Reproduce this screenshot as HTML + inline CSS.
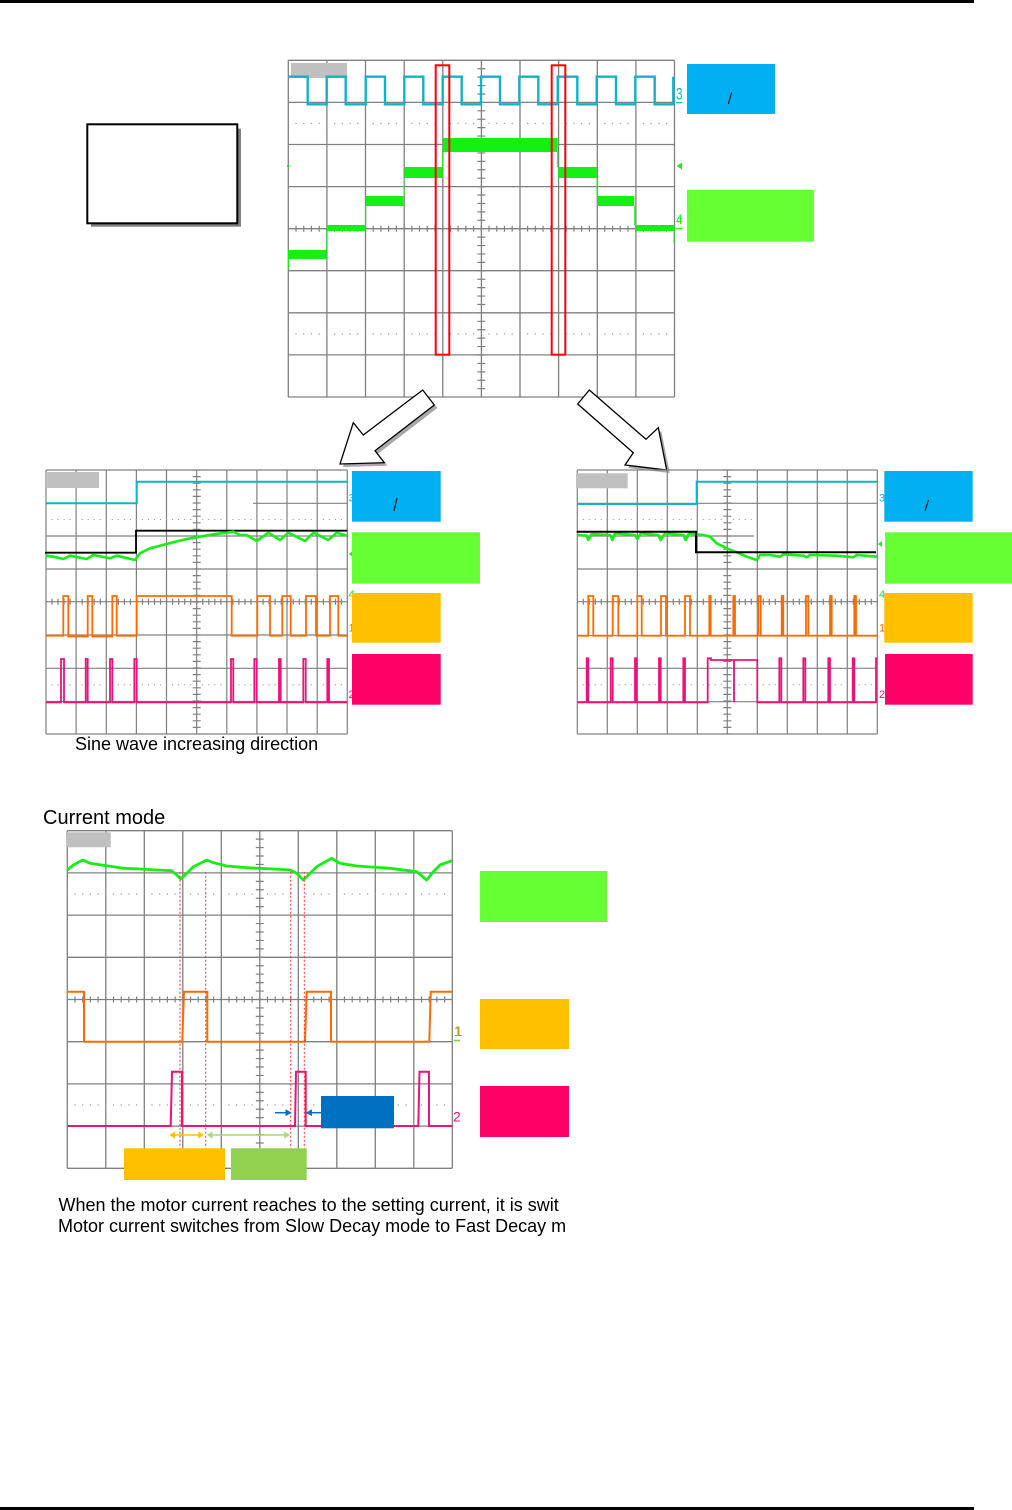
<!DOCTYPE html>
<html><head><meta charset="utf-8"><style>html,body{margin:0;padding:0;background:#fff}svg{display:block}</style></head>
<body>
<svg width="1012" height="1510" viewBox="0 0 1012 1510" xmlns="http://www.w3.org/2000/svg" font-family="'Liberation Sans', Arial, sans-serif">
<rect x="0" y="0" width="1012" height="1510" fill="#fff"/>
<!-- page rules -->
<rect x="0" y="0" width="974" height="3" fill="#000"/>
<rect x="0" y="1507" width="974" height="3" fill="#000"/>

<!-- left white box with shadow -->
<rect x="91" y="128.7" width="150" height="98" fill="#808080"/>
<rect x="87.3" y="124.3" width="150" height="99" fill="#fff" stroke="#000" stroke-width="2"/>

<!-- ================= TOP SCOPE ================= -->
<g fill="none" stroke="#808080" stroke-width="1.3">
<path d="M288.3,60.3V397M326.9,60.3V397M365.5,60.3V397M404.2,60.3V397M442.8,60.3V397M481.4,60.3V397M520,60.3V397M558.6,60.3V397M597.3,60.3V397M635.9,60.3V397M674.5,60.3V397"/>
<path d="M288.3,60.3H674.5M288.3,102.4H674.5M288.3,144.5H674.5M288.3,186.6H674.5M288.3,228.7H674.5M288.3,270.7H674.5M288.3,312.8H674.5M288.3,354.9H674.5M288.3,397H674.5"/>
<line x1="481.4" y1="60.3" x2="481.4" y2="397" stroke-width="8" stroke-dasharray="1.2 7.22" stroke-dashoffset="0.6"/>
<line x1="288.3" y1="228.7" x2="674.5" y2="228.7" stroke-width="6" stroke-dasharray="1.2 6.52" stroke-dashoffset="0.6"/>
<line x1="288.3" y1="123.5" x2="674.5" y2="123.5" stroke="#999" stroke-width="1.2" stroke-dasharray="1.2 6.52" stroke-dashoffset="0.6"/>
<line x1="288.3" y1="333.9" x2="674.5" y2="333.9" stroke="#999" stroke-width="1.2" stroke-dasharray="1.2 6.52" stroke-dashoffset="0.6"/>
</g>
<rect x="291" y="63" width="56" height="15" fill="#c0c0c0"/>
<!-- cyan square wave -->
<path fill="none" stroke="#12b2c8" stroke-width="2.4" d="M288.3,76.7H307.7V104.3H326.7V76.7H345.7V104.3H365.7V76.7H385V104.3H404.3V76.7H423.3V104.3H442.7V76.7H461.7V104.3H481V76.7H500V104.3H519.3V76.7H538.3V104.3H557.7V76.7H577.3V104.3H596.7V76.7H616V104.3H635.3V76.7H654.7V104.3H673.3V76.7"/>
<!-- green staircase -->
<g fill="#14f014">
<rect x="288.3" y="250" width="38.4" height="9"/>
<rect x="326.7" y="225" width="39" height="6"/>
<rect x="365.7" y="196" width="37.6" height="10"/>
<rect x="404.3" y="167" width="38.4" height="11"/>
<rect x="442.7" y="138" width="115" height="14"/>
<rect x="558.3" y="167" width="38.4" height="11"/>
<rect x="597.3" y="196" width="37" height="10"/>
<rect x="635" y="225" width="39.5" height="6"/>
</g>
<path fill="none" stroke="#14f014" stroke-width="1" d="M288.5,250V268M326.7,250V231M365.7,225V206M404,196V178M442.7,167V152M557.7,152V167M597,178V196M634.7,206V225M674,231V243"/>
<!-- red rectangles -->
<rect x="435.7" y="65.3" width="13.6" height="289.4" fill="none" stroke="#ff0000" stroke-width="2"/>
<rect x="551.7" y="65.3" width="13.6" height="289.4" fill="none" stroke="#ff0000" stroke-width="2"/>
<!-- top labels -->
<text x="676" y="99.3" font-size="17" fill="#12b2c8" textLength="6.5" lengthAdjust="spacingAndGlyphs">3</text>
<line x1="676" y1="102.7" x2="682.3" y2="102.7" stroke="#12b2c8" stroke-width="1.2"/>
<polygon points="676.7,166 682,162.5 682,169.5" fill="#14f014"/>
<polygon points="287,165 289,165 289,167 287,167" fill="#14f014"/>
<text x="676" y="224" font-size="14" fill="#14f014" textLength="6.5" lengthAdjust="spacingAndGlyphs">4</text>
<line x1="676" y1="228.7" x2="682.3" y2="228.7" stroke="#14f014" stroke-width="1.2"/>
<!-- top legend boxes -->
<rect x="687" y="64" width="88" height="50" fill="#00b0f0"/>
<line x1="728.3" y1="104" x2="731.7" y2="92.3" stroke="#000" stroke-width="1"/>
<rect x="687" y="190" width="127" height="51.7" fill="#66ff33"/>

<!-- arrows -->
<polygon points="343,467 356.3,425.7 366.3,438 425.7,393 437.3,408 378,453.7 387.3,465.7" fill="#a8a8a8"/>
<polygon points="340,464 353.3,422.7 363.3,435 422.7,390 434.3,405 375,450.7 384.3,462.7" fill="#fff" stroke="#000" stroke-width="1.3" stroke-linejoin="miter"/>
<polygon points="592.3,393 649,442.3 661.3,430.7 669.7,473 628,468 636.3,455.7 580.7,407" fill="#a8a8a8"/>
<polygon points="589.3,390 646,439.3 658.3,427.7 666.7,470 625,465 633.3,452.7 577.7,404" fill="#fff" stroke="#000" stroke-width="1.3" stroke-linejoin="miter"/>

<!-- ================= LEFT SCOPE ================= -->
<g fill="none" stroke="#808080" stroke-width="1.2">
<path d="M46,470V734M76.1,470V734M106.3,470V734M136.4,470V734M166.5,470V734M196.7,470V734M226.8,470V734M256.9,470V734M287,470V734M317.2,470V734M347.3,470V734"/>
<path d="M46,470H347.3M253,503.3H347.3M46,536H347.3M46,569H347.3M46,601.7H347.3M46,635H347.3M46,668.3H347.3M46,701.5H347.3M46,734H347.3"/>
<line x1="196.7" y1="470" x2="196.7" y2="734" stroke-width="8" stroke-dasharray="1.2 5.4" stroke-dashoffset="0.6"/>
<line x1="46" y1="601.7" x2="347.3" y2="601.7" stroke-width="6" stroke-dasharray="1.2 4.83" stroke-dashoffset="0.6"/>
<line x1="46" y1="519.5" x2="347.3" y2="519.5" stroke="#999" stroke-width="1.1" stroke-dasharray="1.1 4.93" stroke-dashoffset="0.6"/>
<line x1="46" y1="684.8" x2="347.3" y2="684.8" stroke="#999" stroke-width="1.1" stroke-dasharray="1.1 4.93" stroke-dashoffset="0.6"/>
</g>
<rect x="46" y="472" width="53" height="16" fill="#c0c0c0"/>
<path fill="none" stroke="#12b2c8" stroke-width="2" d="M46,503.3H136.7V481.7H347.3"/>
<path fill="none" stroke="#000" stroke-width="1.8" d="M45,552.7H136V530.7H347.3"/>
<path fill="none" stroke="#14f014" stroke-width="2.6" stroke-linejoin="round" d="M46,555.7L53.3,556.7L63.3,559L70,555.7L86.7,559L93.3,555L110,558.3L116.7,555.7L135,560L140,553.3L150,548.3L160,545.7L173.3,542.3L186.7,539L200,536.7L213.3,534.3L226.7,532.7L233.3,531.7L240,535L246.7,535L256.7,541L268.3,532.7L280,540L288.3,532.7L305,541L313.3,532.7L328.3,540L336.7,532.7L347.3,535.7"/>
<path fill="none" stroke="#ff6a00" stroke-width="1.8" d="M46,635.7H63.3V596H68.3V636.5H87.7V596H92.3V636.5H112.3V596H116.7V635.7H136.7V596H231.7V635.7H257.3V596H270V635.7H282.3V596H290.7V635.7H306V596H316V635.7H330V596H338.3V635.7H347.3"/>
<path fill="none" stroke="#ee1177" stroke-width="1.8" d="M46,702.3H61V659H64V702.3H85.7V659H87.7V702.3H110V659H112.3V702.3H134.3V659H136.7V702.3H231V659H233.3V702.3H254.3V659H256.7V702.3H279V659H280.7V702.3H303.3V659H305.7V702.3H327.3V659H329V702.3H347.3"/>
<g font-size="11">
<text x="348.5" y="501.7" fill="#12b2c8">3</text>
<text x="348.5" y="598" fill="#14f014">4</text>
<text x="348.5" y="631.7" fill="#ff6a00">1</text>
<text x="348.5" y="698" fill="#ee1177">2</text>
</g>
<polygon points="349,554 353,551 353,557" fill="#14f014"/>
<rect x="352" y="471" width="88.7" height="50.7" fill="#00b0f0"/>
<line x1="394" y1="511" x2="397" y2="498" stroke="#000" stroke-width="1"/>
<rect x="352" y="532.3" width="128" height="51.4" fill="#66ff33"/>
<rect x="352" y="593" width="88.7" height="49.7" fill="#ffc000"/>
<rect x="352" y="654" width="88.7" height="50.7" fill="#ff0066"/>
<text x="75" y="750" font-size="18" fill="#000">Sine wave increasing direction</text>

<!-- ================= RIGHT SCOPE ================= -->
<g fill="none" stroke="#808080" stroke-width="1.2">
<path d="M577.3,470V734M607.3,470V734M637.3,470V734M667.3,470V734M697.3,470V734M727.3,470V734M757.3,470V734M787.3,470V734M817.3,470V734M847.3,470V734M877.3,470V734"/>
<path d="M577.3,470H877.3M577.3,503.3H877.3M577.3,536H754M577.3,569H877.3M577.3,601.7H877.3M577.3,635.7H877.3M577.3,668.3H877.3M577.3,701.7H877.3M577.3,734H877.3"/>
<line x1="727.3" y1="470" x2="727.3" y2="734" stroke-width="8" stroke-dasharray="1.2 5.4" stroke-dashoffset="0.6"/>
<line x1="577.3" y1="601.7" x2="877.3" y2="601.7" stroke-width="6" stroke-dasharray="1.2 4.8" stroke-dashoffset="0.6"/>
<line x1="577.3" y1="519.5" x2="754" y2="519.5" stroke="#999" stroke-width="1.1" stroke-dasharray="1.1 4.9" stroke-dashoffset="0.6"/>
<line x1="577.3" y1="684.8" x2="877.3" y2="684.8" stroke="#999" stroke-width="1.1" stroke-dasharray="1.1 4.9" stroke-dashoffset="0.6"/>
</g>
<rect x="576" y="473.3" width="51.7" height="15" fill="#c0c0c0"/>
<path fill="none" stroke="#12b2c8" stroke-width="2" d="M577.3,504H696.7V481.7H877.3"/>
<path fill="none" stroke="#14f014" stroke-width="2.6" stroke-linejoin="round" d="M577.3,535L586.7,535.7L588.3,540L591.7,534L610,535L612.3,540L615,533.3L635,535L637.3,539L640.7,533.3L658.3,535L660.7,540L665,533.3L683.3,535L685.7,540L689,533.3L696,534.3L703.3,535L710,536.7L716.7,543.3L726.7,548.3L736.7,552.3L746.7,556.7L756.7,560L760,555L770,555L780,556.7L783.3,554.3L803.3,555.7L806.7,557.3L810,555L836.7,555.7L853.3,557.3L856.7,555L877.3,556.7"/>
<path fill="none" stroke="#000" stroke-width="2" d="M576.7,531.7H696V552.3H876"/>
<path fill="none" stroke="#ff6a00" stroke-width="1.8" d="M577.3,635.7H588.3V596H593.3V635.7H612.7V596H618.3V635.7H637.3V596H641.7V635.7H661V596H666V635.7H685V596H690V635.7H709.3V596H710.7V635.7H733.3V596H735V635.7H758.3V596H760.7V635.7H781.7V596H783.3V635.7H806V596H808.3V635.7H830V596H831.7V635.7H854.3V596H856V635.7H877.3"/>
<path fill="none" stroke="#ee1177" stroke-width="1.8" d="M577.3,702.3H586.7V658.3H588.3V702.3H610.7V658.3H612.7V702.3H635V658.3H636.7V702.3H659V658.3H660.7V702.3H683.3V658.3H685V702.3H707.7V658.3H711V660H734V702.3V660H757.3V702.3H779.3V658.3H781.3V702.3H803.3V658.3H805.3V702.3H828.3V658.3H830V702.3H852.7V658.3H854.3V702.3H876V658.3H877.3"/>
<g font-size="11">
<text x="879" y="501.7" fill="#12b2c8">3</text>
<text x="879" y="598" fill="#14f014">4</text>
<text x="879" y="631.7" fill="#ff6a00">1</text>
<text x="879" y="698" fill="#ee1177">2</text>
</g>
<polygon points="878,544 882,541 882,547" fill="#14f014"/>
<rect x="884.3" y="471" width="88.4" height="50.7" fill="#00b0f0"/>
<line x1="925" y1="511" x2="928.5" y2="500" stroke="#000" stroke-width="1"/>
<rect x="885" y="532.3" width="127" height="51.4" fill="#66ff33"/>
<rect x="884.3" y="593" width="88.4" height="49.7" fill="#ffc000"/>
<rect x="885" y="654" width="87.7" height="50.7" fill="#ff0066"/>

<!-- ================= BOTTOM SCOPE ================= -->
<text x="43" y="824" font-size="20" fill="#000">Current mode</text>
<g fill="none" stroke="#808080" stroke-width="1.3">
<path d="M67.3,830.7V1168.3M105.8,830.7V1168.3M144.3,830.7V1168.3M182.8,830.7V1168.3M221.3,830.7V1168.3M259.8,830.7V1168.3M298.3,830.7V1168.3M336.8,830.7V1168.3M375.3,830.7V1168.3M413.8,830.7V1168.3M452.3,830.7V1168.3"/>
<path d="M67.3,830.7H452.3M67.3,872.9H452.3M67.3,915.1H452.3M67.3,957.3H452.3M67.3,999.5H452.3M67.3,1041.7H452.3M67.3,1083.9H452.3M67.3,1126.1H452.3M67.3,1168.3H452.3"/>
<line x1="259.8" y1="830.7" x2="259.8" y2="1168.3" stroke-width="8" stroke-dasharray="1.2 7.24" stroke-dashoffset="0.6"/>
<line x1="67.3" y1="999.5" x2="452.3" y2="999.5" stroke-width="6" stroke-dasharray="1.2 6.5" stroke-dashoffset="0.6"/>
<line x1="67.3" y1="894" x2="452.3" y2="894" stroke="#999" stroke-width="1.2" stroke-dasharray="1.2 6.5" stroke-dashoffset="0.6"/>
<line x1="67.3" y1="1105" x2="452.3" y2="1105" stroke="#999" stroke-width="1.2" stroke-dasharray="1.2 6.5" stroke-dashoffset="0.6"/>
</g>
<rect x="66" y="832.3" width="44.7" height="15" fill="#c0c0c0"/>
<path fill="none" stroke="#14f014" stroke-width="2.8" stroke-linejoin="round" d="M67.3,870L73.3,865L82.7,860L90,863.3L106.7,865.7L123.3,868.3L140,869L156.7,870L171.7,870.7L176.7,875L180.7,879L185,875L193.3,866.7L203.3,861.7L206.7,860L213.3,862.7L226.7,866L246.7,867.7L273.3,869L290,870L296.7,873.3L303.3,880L308.3,875L316.7,866.7L326.7,861L331.7,858.3L340,863.3L356.7,866L390,868.3L416.7,871.7L426.7,880L433.3,871.7L440,865L451.7,860.7"/>
<path fill="none" stroke="#ff6a00" stroke-width="2" d="M67.3,991.7H84V1041.7H182.3L184,991.7H207.3V1041.7H305L306.7,991.7H331V1041.7H429.3L430.7,991.7H452.3"/>
<path fill="none" stroke="#ee1177" stroke-width="2" d="M67.3,1126H170.7L172,1071.7H182V1126H295L296,1071.7H305.7V1126H418.3L419.5,1071.7H429V1126H452.3"/>
<g stroke="#ff3030" stroke-width="1" stroke-dasharray="2 2">
<line x1="180" y1="871.7" x2="180" y2="1148.3"/>
<line x1="205.7" y1="871.7" x2="205.7" y2="1148.3"/>
<line x1="290.7" y1="871.7" x2="290.7" y2="1148.3"/>
<line x1="304.3" y1="871.7" x2="304.3" y2="1148.3"/>
</g>
<!-- double arrows -->
<line x1="172" y1="1135" x2="201" y2="1135" stroke="#ffc000" stroke-width="1.5"/>
<polygon points="169.3,1135 175,1131.5 175,1138.5" fill="#ffc000"/>
<polygon points="204,1135 198.3,1131.5 198.3,1138.5" fill="#ffc000"/>
<line x1="209.5" y1="1135" x2="287" y2="1135" stroke="#a8d878" stroke-width="1.5"/>
<polygon points="206.7,1135 212.5,1131.5 212.5,1138.5" fill="#a8d878"/>
<polygon points="290,1135 284.2,1131.5 284.2,1138.5" fill="#a8d878"/>
<!-- blue arrows -->
<line x1="275" y1="1112.7" x2="287" y2="1112.7" stroke="#0070c0" stroke-width="1.5"/>
<polygon points="291.7,1112.7 285.5,1109.3 285.5,1116.1" fill="#0070c0"/>
<line x1="310" y1="1112.7" x2="321.7" y2="1112.7" stroke="#0070c0" stroke-width="1.5"/>
<polygon points="305.7,1112.7 311.9,1109.3 311.9,1116.1" fill="#0070c0"/>
<rect x="321" y="1096" width="73" height="32.3" fill="#0070c0"/>
<rect x="124" y="1148.3" width="101" height="31.7" fill="#ffc000"/>
<rect x="231" y="1148.3" width="75.7" height="31.7" fill="#92d050"/>
<text x="454" y="1036" font-size="14" fill="#ff6a00">1</text>
<text x="455" y="1036" font-size="14" fill="#14f014" opacity="0.6">1</text>
<line x1="454" y1="1040.5" x2="460" y2="1040.5" stroke="#88c030" stroke-width="1.5"/>
<text x="453" y="1121.7" font-size="14" fill="#ee1177">2</text>
<rect x="480" y="871" width="127" height="51" fill="#66ff33"/>
<rect x="480" y="999" width="89" height="50" fill="#ffc000"/>
<rect x="480" y="1086" width="89" height="51" fill="#ff0066"/>

<text x="58.5" y="1211" font-size="18" fill="#000">When the motor current reaches to the setting current, it is swit</text>
<text x="58" y="1232" font-size="18" fill="#000">Motor current switches from Slow Decay mode to Fast Decay m</text>
</svg>
</body></html>
